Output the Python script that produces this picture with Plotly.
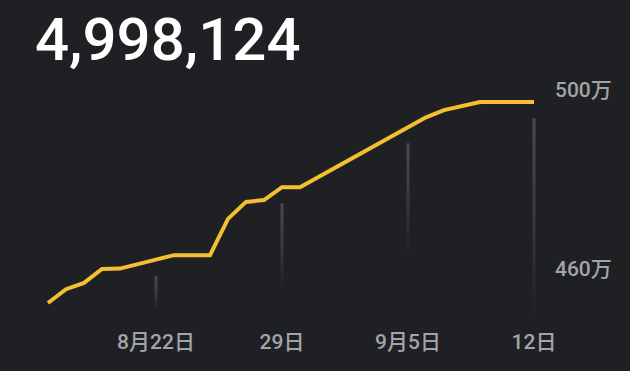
import plotly.graph_objects as go
import pandas as pd

# ---- data ----
dates = pd.date_range("2023-08-16", "2023-09-12", freq="D")
values = [4549000, 4580000, 4594000, 4625000, 4626000, 4636000, 4645000,
          4656000, 4656000, 4656000, 4737000, 4775000, 4779000, 4808000,
          4808000, 4831000, 4853000, 4875000, 4897000, 4920000, 4942000,
          4964000, 4980000, 4989000, 4998124, 4998124, 4998124, 4998124]
headline = "4,998,124"
x_tick_dates = ["2023-08-22", "2023-08-29", "2023-09-05", "2023-09-12"]
x_tick_labels = ["8月22日", "29日", "9月5日", "12日"]
y_tick_vals = [4600000, 5000000]
y_tick_labels = ["460万", "500万"]
marker_tops = [4609000, 4772000, 4906000, 4962000]
marker_bottoms = [4529000, 4583000, 4654000, 4517000]

BG = "#1f2023"
FONT = "Roboto, Noto Sans CJK SC, sans-serif"
TICK = "#a2a4a9"

fig = go.Figure()

half = pd.Timedelta(hours=2)
for d, top, bot in zip(x_tick_dates, marker_tops, marker_bottoms):
    t = pd.Timestamp(d)
    fig.add_trace(go.Scatter(
        x=[t - half, t + half, t + half, t - half, t - half],
        y=[bot, bot, top, top, bot],
        mode="lines", line=dict(width=0), fill="toself",
        fillgradient=dict(type="vertical",
                          colorscale=[[0, "rgba(72,74,78,0)"], [0.5, "rgba(72,74,78,0.6)"], [1, "rgba(72,74,78,1)"]]),
        hoverinfo="skip", showlegend=False))

fig.add_trace(go.Scatter(
    x=dates, y=values, mode="lines",
    line=dict(color="#f5bf31", width=4),
    showlegend=False))

x0 = dates[0] - pd.Timedelta(days=48 / 18)
x1 = dates[0] + pd.Timedelta(days=(545 - 48) / 18)

fig.update_layout(
    width=630, height=371,
    paper_bgcolor=BG, plot_bgcolor=BG,
    margin=dict(l=0, r=85, t=95, b=51),
    font=dict(family=FONT, color=TICK, size=21),
    title=dict(text=headline, font=dict(family=FONT, size=60, color="#ffffff", weight=500),
               xref="container", x=35 / 630, xanchor="left",
               yref="container", y=1 - 39 / 371, yanchor="middle"),
    xaxis=dict(range=[x0, x1], showgrid=False, zeroline=False, showline=False,
               tickvals=x_tick_dates, ticktext=x_tick_labels, ticks="",
               ticklabelstandoff=7, tickfont=dict(size=21, color=TICK, weight=500)),
    yaxis=dict(range=[4511100, 5013850], side="right", showgrid=False,
               zeroline=False, showline=False, ticks="",
               tickvals=y_tick_vals, ticktext=y_tick_labels,
               ticklabelshift=-12, ticklabelstandoff=9,
               tickfont=dict(size=21, color=TICK, weight=500)),
)

fig.write_html("out.html")
